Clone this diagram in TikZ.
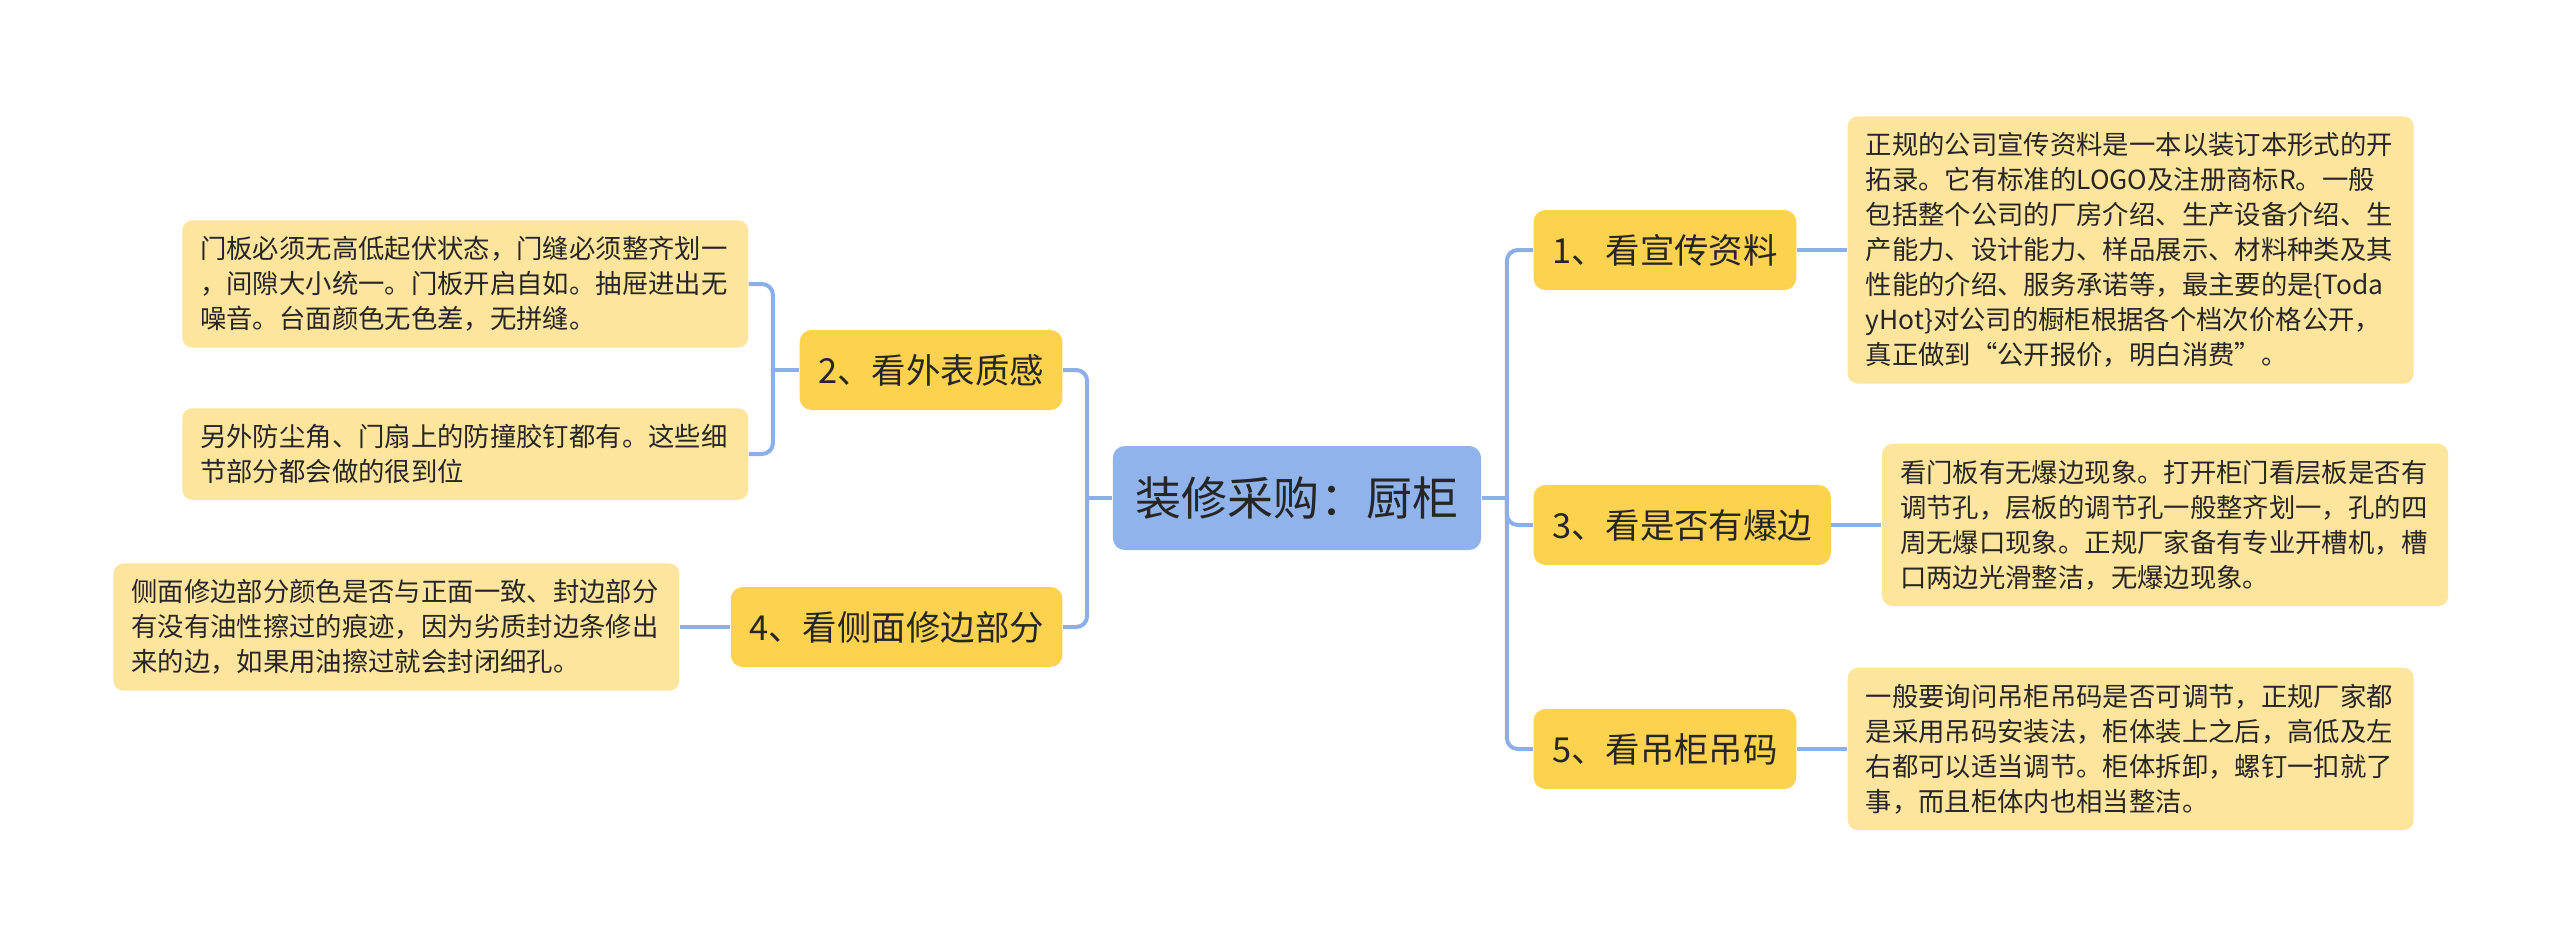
\documentclass[tikz,border=0pt]{standalone}
\usepackage{fontspec}
\newfontfamily\cjk{Noto Sans CJK SC}
\usetikzlibrary{positioning}
\definecolor{rootblue}{HTML}{8FB3EA}
\definecolor{branchgold}{HTML}{FDD24F}
\definecolor{detailyellow}{HTML}{FEE59D}
\definecolor{linkblue}{HTML}{8DAFE7}
\definecolor{inkgray}{HTML}{262626}

\begin{document}
\begin{tikzpicture}[
  font=\cjk, text=inkgray,
  root/.style={fill=rootblue, rounded corners=0.12cm, align=center, minimum height=1.04cm, inner xsep=0.23cm, font=\cjk\fontsize{13.1pt}{15pt}\selectfont},
  branch/.style={fill=branchgold, rounded corners=0.12cm, align=center, minimum height=0.8cm, inner xsep=0.185cm, font=\cjk\fontsize{9.8pt}{12pt}\selectfont},
  detail/.style={fill=detailyellow, rounded corners=0.1cm, align=left, text width=5.3cm, inner xsep=0.18cm, inner ysep=0.16cm, font=\cjk\fontsize{7.5pt}{9.96pt}\selectfont},
  link/.style={draw=linkblue, line width=0.04cm, rounded corners=0.11cm},
]
\path[use as bounding box, fill=white] (-12.97,-4.48) rectangle (12.63,4.98);
% centre topic
\node[root] (root) {装修采购：厨柜};
% right side: 1, 3, 5
\node[branch, right=0.51 of root, yshift=2.48cm] (b1) {1、看宣传资料};
\node[branch, right=0.51 of root, yshift=-0.27cm] (b3) {3、看是否有爆边};
\node[branch, right=0.51 of root, yshift=-2.51cm] (b5) {5、看吊柜吊码};
\node[detail, right=0.5 of b1] (d1) {正规的公司宣传资料是一本以装订本形式的开\\拓录。它有标准的LOGO及注册商标R。一般\\包括整个公司的厂房介绍、生产设备介绍、生\\产能力、设计能力、样品展示、材料种类及其\\性能的介绍、服务承诺等，最主要的是\{Toda\\yHot\}对公司的橱柜根据各个档次价格公开，\\真正做到“公开报价，明白消费”。};
\node[detail, right=0.5 of b3] (d3) {看门板有无爆边现象。打开柜门看层板是否有\\调节孔，层板的调节孔一般整齐划一，孔的四\\周无爆口现象。正规厂家备有专业开槽机，槽\\口两边光滑整洁，无爆边现象。};
\node[detail, right=0.5 of b5] (d5) {一般要询问吊柜吊码是否可调节，正规厂家都\\是采用吊码安装法，柜体装上之后，高低及左\\右都可以适当调节。柜体拆卸，螺钉一扣就了\\事，而且柜体内也相当整洁。};
% left side: 2, 4
\node[branch, left=0.49 of root, yshift=1.28cm] (b2) {2、看外表质感};
\node[branch, left=0.49 of root, yshift=-1.29cm] (b4) {4、看侧面修边部分};
\node[detail, left=0.5 of b2, yshift=0.86cm] (d2a) {门板必须无高低起伏状态，门缝必须整齐划一\\，间隙大小统一。门板开启自如。抽屉进出无\\噪音。台面颜色无色差，无拼缝。};
\node[detail, left=0.5 of b2, yshift=-0.84cm] (d2b) {另外防尘角、门扇上的防撞胶钉都有。这些细\\节部分都会做的很到位};
\node[detail, left=0.5 of b4] (d4) {侧面修边部分颜色是否与正面一致、封边部分\\有没有油性擦过的痕迹，因为劣质封边条修出\\来的边，如果用油擦过就会封闭细孔。};
% connectors
\coordinate[right=0.25 of root] (rspine);
\coordinate[left=0.25 of root] (lspine);
\coordinate[left=0.26 of b2] (b2spine);
\draw[link] (root.east) -- (rspine);
\draw[link] (rspine) |- (b1.west);
\draw[link] (rspine) |- (b3.west);
\draw[link] (rspine) |- (b5.west);
\draw[link] (root.west) -- (lspine);
\draw[link] (lspine) |- (b2.east);
\draw[link] (lspine) |- (b4.east);
\draw[link] (b1.east) -- (d1.west);
\draw[link] (b3.east) -- (d3.west);
\draw[link] (b5.east) -- (d5.west);
\draw[link] (b2.west) -- (b2spine);
\draw[link] (b2spine) |- (d2a.east);
\draw[link] (b2spine) |- (d2b.east);
\draw[link] (b4.west) -- (d4.east);
\end{tikzpicture}
\end{document}
